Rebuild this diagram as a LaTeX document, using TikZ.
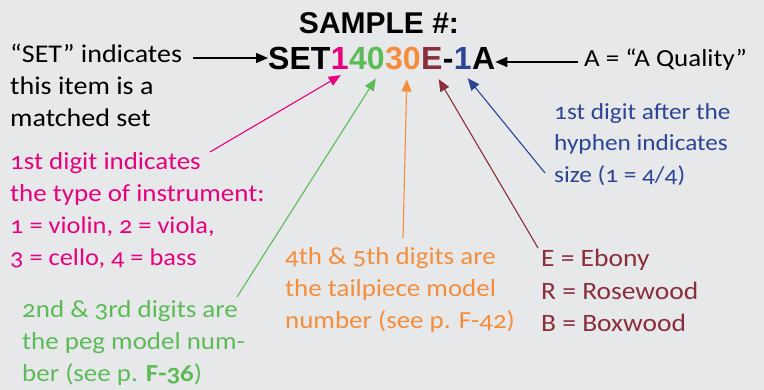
\documentclass[tikz,border=0pt]{standalone}
\usepackage{fontspec}
\setmainfont{Carlito}[Numbers=OldStyle, FakeStretch=1.1]
\newfontfamily\titlefont{Liberation Sans}
\usetikzlibrary{arrows.meta,positioning,calc}
\definecolor{bgGray}{HTML}{E7E8EA}
\definecolor{typePink}{HTML}{E6007E}
\definecolor{pegGreen}{HTML}{5DBB57}
\definecolor{tailOrange}{HTML}{F68D3C}
\definecolor{woodRed}{HTML}{8A2E3B}
\definecolor{sizeBlue}{HTML}{2D4595}

\begin{document}
\begin{tikzpicture}[
    x=1pt, y=-1pt,
    code/.style={font=\titlefont\bfseries\fontsize{32}{34}\selectfont, inner sep=0pt, anchor=base west},
    note/.style={font=\fontsize{24.5}{32}\selectfont, align=left, inner sep=0pt, anchor=north west},
    pointer/.style={-{Triangle[length=12pt,width=10pt]}, line width=1.1pt}
]
% Hintergrund
\useasboundingbox (0,0) rectangle (764,390);
\fill[bgGray] (0,0) rectangle (764,390);

% Titel und Nummer
\node[font=\titlefont\bfseries\fontsize{30}{32}\selectfont, inner sep=0pt, anchor=base] (title) at (379,34) {SAMPLE \#:};
\node[code] (set) at (268,70) {SET};
\node[code, typePink] (d1) at (set.base east) {1};
\node[code, pegGreen] (d23) at (d1.base east) {40};
\node[code, tailOrange] (d45) at (d23.base east) {30};
\node[code, woodRed] (wood) at (d45.base east) {E};
\node[code] (hyph) at (wood.base east) {-};
\node[code, sizeBlue] (size) at (hyph.base east) {1};
\node[code] (qual) at (size.base east) {A};

% Erklaerungen (Oberkante = Grundlinie - Oberlaenge)
\node[note, font=\fontsize{25.5}{32}\selectfont] (setnote) at (10,44) {“SET” indicates\\this item is a\\matched set};
\node[note] (qualnote) at (584,49) {A = “A Quality”};
\node[note, sizeBlue, font=\fontsize{23}{31.5}\selectfont] (sizenote) at (554,103) {1st digit after the\\hyphen indicates\\size (1 = 4/4)};
\node[note, typePink] (typenote) at (10,152) {1st digit indicates\\the type of instrument:\\{\fontsize{24}{32}\selectfont 1 = violin, 2 = viola,}\\{\fontsize{24}{32}\selectfont 3 = cello, 4 = bass}};
\node[note, tailOrange] (tailnote) at (285,247) {4th \& 5th digits are\\the tailpiece model\\number (see p. F-42)};
\node[note, woodRed, font=\fontsize{25}{32.5}\selectfont] (woodnote) at (541,249) {E = Ebony\\R = Rosewood\\B = Boxwood};
\node[note, pegGreen] (pegnote) at (22,300) {2nd \& 3rd digits are\\the peg model num-\\ber (see p. \textbf{F-36})};

% Pfeile
\coordinate (setTail) at (193,58);
\coordinate (qualTail) at (578,62);
\coordinate (typeTail) at (210,152);
\coordinate (pegTail) at (237,297);
\coordinate (tailTail) at (403,238);
\coordinate (woodTail) at (538,248);
\coordinate (sizeTail) at (545,173);
\draw[pointer, line width=1.4pt] (setTail) -- (set.west |- setTail);
\draw[pointer, line width=1.4pt] (qualTail) -- (qual.east |- qualTail);
\draw[pointer, typePink] (typeTail) -- ($(d1.south)+(1,5)$);
\draw[pointer, pegGreen] (pegTail) -- ($(d23.south)+(9,8)$);
\draw[pointer, tailOrange] (tailTail) -- ($(d45.south)+(4,9)$);
\draw[pointer, woodRed] (woodTail) -- ($(wood.south)+(7,9)$);
\draw[pointer, sizeBlue] (sizeTail) -- ($(size.south)+(5,8)$);
\end{tikzpicture}
\end{document}
